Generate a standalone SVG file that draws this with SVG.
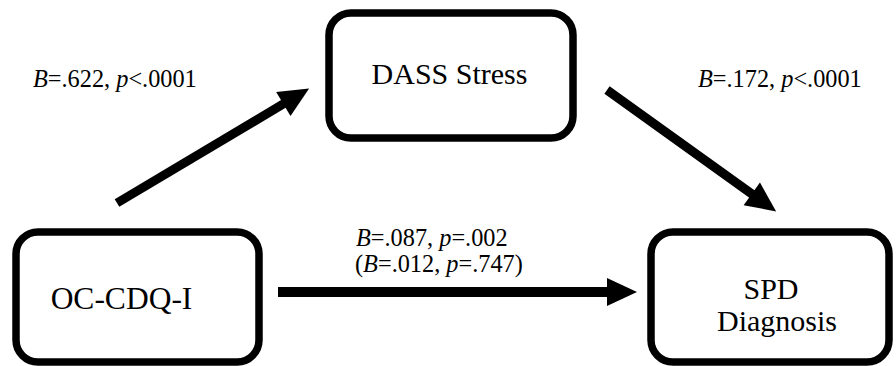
<svg xmlns="http://www.w3.org/2000/svg" width="896" height="366" viewBox="0 0 896 366">
<style>
.box{fill:#fff;stroke:#000;stroke-width:7.5}
.nt{font-family:'Liberation Serif','Times New Roman',serif;font-size:30px;fill:#000}
.lt{font-family:'Liberation Serif','Times New Roman',serif;font-size:24.3px;fill:#000}
.i{font-style:italic}
.ar{stroke:#000;fill:none}
</style>
<defs>
<marker id="ah" markerUnits="userSpaceOnUse" markerWidth="30" markerHeight="28" refX="1" refY="14" orient="auto" overflow="visible">
<path d="M0,0 L30,14 L0,28 z" fill="#000"/>
</marker>
</defs>
<rect width="896" height="366" fill="#fff"/>
<g id="connectors">
<line class="ar" x1="117" y1="203" x2="284.2" y2="103.4" stroke-width="9" marker-end="url(#ah)"/>
<line class="ar" x1="607" y1="90" x2="752.6" y2="194.5" stroke-width="9" marker-end="url(#ah)"/>
<line class="ar" x1="278" y1="292" x2="608" y2="292" stroke-width="10" marker-end="url(#ah)"/>
</g>
<g id="labels">
<text class="lt" x="33" y="87"><tspan class="i">B</tspan>=.622, <tspan class="i">p</tspan>&lt;.0001</text>
<text class="lt" x="698" y="87"><tspan class="i">B</tspan>=.172, <tspan class="i">p</tspan>&lt;.0001</text>
<text class="lt" x="356" y="246"><tspan class="i">B</tspan>=.087, <tspan class="i">p</tspan>=.002</text>
<text class="lt" x="355" y="272">(<tspan class="i">B</tspan>=.012, <tspan class="i">p</tspan>=.747)</text>
</g>
<g id="dass">
<rect class="box" x="329" y="13" width="244" height="125" rx="22"/>
<text class="nt" x="449.5" y="84" text-anchor="middle">DASS Stress</text>
</g>
<g id="ocdq">
<rect class="box" x="16" y="232" width="243" height="130" rx="22"/>
<text class="nt" x="121.5" y="309" text-anchor="middle" style="font-size:31.5px">OC-CDQ-I</text>
</g>
<g id="spd">
<rect class="box" x="651" y="232" width="238" height="130" rx="22"/>
<text class="nt" x="771" y="299" text-anchor="middle">SPD</text>
<text class="nt" x="777" y="331" text-anchor="middle">Diagnosis</text>
</g>
</svg>
